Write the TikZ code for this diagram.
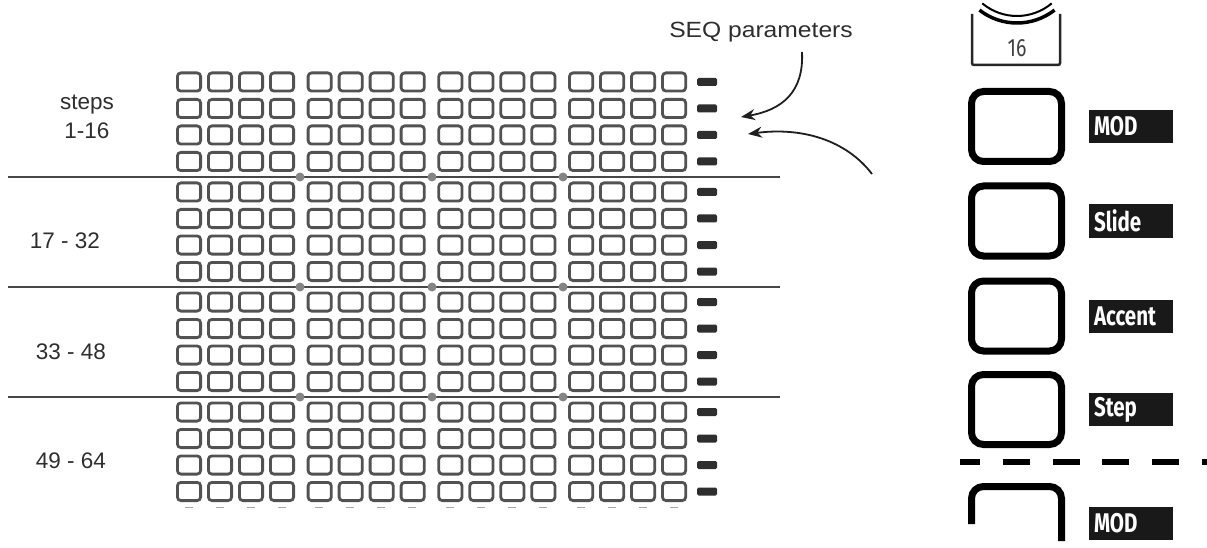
\documentclass[tikz,border=0pt]{standalone}
\usepackage{fontspec}
\usepackage{graphicx}
\setmainfont{Liberation Sans}
\newfontfamily\labfont{Fira Sans}
\usetikzlibrary{arrows.meta}
\begin{document}
\begin{tikzpicture}[x=1pt,y=-1pt,
  pad/.style={draw=black!68, line width=2.8pt, rounded corners=3.5pt},
  minilab/.style={fill=black!82, rounded corners=1.5pt},
  divline/.style={draw=black!72, line width=1.4pt},
  joint/.style={fill=black!48},
  tick/.style={draw=black!35, line width=1pt},
  rangelab/.style={font=\fontsize{22.5}{29}\selectfont, text=black!82, align=center, inner sep=0pt},
  bigpad/.style={draw=black, line width=7pt, rounded corners=12pt},
  paramlab/.style={fill=black!90, text=white, text width=74pt, inner xsep=5pt, inner ysep=0pt, align=left, minimum height=33pt, font=\labfont\bfseries\fontsize{27}{27}\selectfont},
  callout/.style={-{Stealth[length=14pt,width=11pt]}, line width=1.8pt, draw=black!88}
]
\useasboundingbox (0,0) rectangle (1207,548);
\clip (0,0) rectangle (1207,548);

% ---- grid of step pads ----
\foreach \s in {0,...,3}{
  \foreach \r in {0,...,3}{
    \pgfmathsetmacro\yc{82+\s*110+\r*26.5}
    \foreach \g in {0,...,3}{
      \foreach \i in {0,...,3}{
        \pgfmathsetmacro\xl{176+\g*130.7+\i*31}
        \draw[pad] (\xl+1.4,\yc-9.1) rectangle (\xl+24.6,\yc+9.1);
      }
    }
    \fill[minilab] (697,\yc-4) rectangle (717,\yc+4);
  }
}
% small ticks under the last row
\foreach \g in {0,...,3}{
  \foreach \i in {0,...,3}{
    \pgfmathsetmacro\xc{176+\g*130.7+\i*31+12.75}
    \draw[tick] (\xc-4,507) -- (\xc+4,507);
  }
}

% ---- divider lines with joints ----
\foreach \yl in {177,287,397}{
  \draw[divline] (8,\yl) -- (780,\yl);
  \foreach \xj in {300,432,563}{
    \fill[joint] (\xj,\yl) circle (4.5);
  }
}

% ---- range labels ----
\node[rangelab] (r1) at (87,117) {steps\\1-16};
\node[rangelab] (r2) at (65,241) {17 - 32};
\node[rangelab] (r3) at (71,352) {33 - 48};
\node[rangelab] (r4) at (71,461) {49 - 64};

% ---- SEQ parameters callout ----
\node[font=\fontsize{22}{24}\selectfont, text=black!82, inner sep=0pt] (seq) at (761,32) {\scalebox{1.12}[1]{SEQ parameters}};
\coordinate (a1s) at (802,52);
\coordinate (a1e) at (741,117);
\coordinate (a2s) at (872,174);
\coordinate (a2e) at (748,134);
\draw[callout] (a1s) .. controls (804,92) and (782,110) .. (a1e);
\draw[callout] (a2s) .. controls (846,140) and (802,127) .. (a2e);

% ---- right panel: pad 16 ----
\draw[line width=3.5pt] (1017,-38) ++(52:61) arc[start angle=52, end angle=128, radius=61];
\draw[line width=2pt] (1017,-38) ++(50:54) arc[start angle=50, end angle=130, radius=54];
\draw[line width=2.5pt, draw=black!85, rounded corners=2pt] (972,14) |- (1060,65) -- (1060,14);
\node[font=\labfont\fontsize{25}{25}\selectfont, text=black!75, inner sep=0pt] (n16) at (1017,48) {\scalebox{0.78}[1]{16}};

% ---- right panel: parameter pads ----
\foreach \yc/\nm/\lab in {126.5/a/MOD, 221/b/Slide, 316/c/Accent, 409.5/d/Step}{
  \draw[bigpad] (971.5,\yc-35) rectangle (1061.5,\yc+35);
  \node[paramlab] (lab\nm) at (1131,\yc) {\scalebox{0.76}[1]{\lab}};
}

% dashed separator
\draw[line width=6.5pt, dash pattern=on 27pt off 22.75pt, dash phase=7pt] (960,462) -- (1207,462);

% bottom partial pad
\draw[line width=7pt, rounded corners=12pt] (971.5,524) |- (1061.5,486.5) -- (1061.5,541);
\node[paramlab] (labe) at (1131,523.5) {\scalebox{0.76}[1]{MOD}};
\end{tikzpicture}
\end{document}
